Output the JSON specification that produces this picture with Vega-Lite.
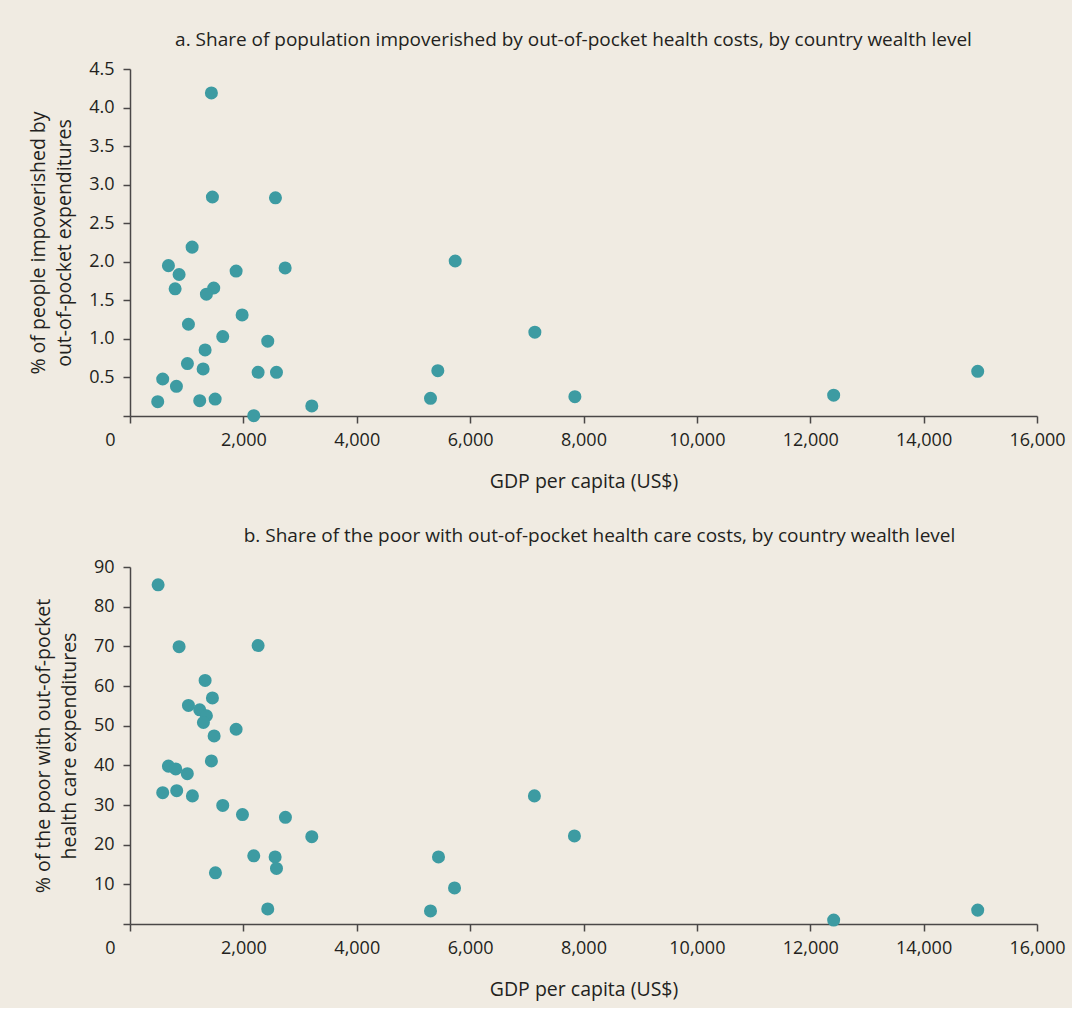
{
  "$schema": "https://vega.github.io/schema/vega-lite/v6.json",
  "background": "#f0ebe2",
  "padding": {"left": 28, "top": 31, "right": 6, "bottom": 9},
  "spacing": 36,
  "config": {
    "view": {"stroke": null},
    "font": "Open Sans",
    "axis": {
      "grid": false,
      "domainColor": "#4a4747",
      "tickColor": "#4a4747",
      "domainWidth": 1.5,
      "tickWidth": 1.5,
      "tickSize": 7,
      "labelColor": "#231f20",
      "titleColor": "#231f20",
      "labelFont": "Open Sans",
      "titleFont": "Open Sans",
      "labelFontSize": 18,
      "titleFontSize": 19.5,
      "titleFontWeight": "normal",
      "labelFlush": false
    },
    "title": {"font": "Open Sans", "fontSize": 19, "fontWeight": "normal", "color": "#231f20", "frame": "group", "anchor": "middle"}
  },
  "datasets": {
    "a": [
      {"gdp": 1436, "pct": 4.19},
      {"gdp": 1454, "pct": 2.84},
      {"gdp": 2566, "pct": 2.83},
      {"gdp": 1096, "pct": 2.19},
      {"gdp": 678, "pct": 1.95},
      {"gdp": 866, "pct": 1.835},
      {"gdp": 796, "pct": 1.65},
      {"gdp": 1477, "pct": 1.66},
      {"gdp": 1348, "pct": 1.58},
      {"gdp": 1872, "pct": 1.88},
      {"gdp": 2737, "pct": 1.92},
      {"gdp": 1978, "pct": 1.31},
      {"gdp": 1031, "pct": 1.19},
      {"gdp": 1636, "pct": 1.03},
      {"gdp": 2430, "pct": 0.97},
      {"gdp": 1325, "pct": 0.857},
      {"gdp": 1013, "pct": 0.68},
      {"gdp": 1290, "pct": 0.61},
      {"gdp": 2260, "pct": 0.567},
      {"gdp": 2584, "pct": 0.567},
      {"gdp": 577, "pct": 0.48},
      {"gdp": 819, "pct": 0.385},
      {"gdp": 489, "pct": 0.186},
      {"gdp": 1230, "pct": 0.199},
      {"gdp": 1502, "pct": 0.22},
      {"gdp": 2183, "pct": 0.004},
      {"gdp": 3207, "pct": 0.13},
      {"gdp": 5737, "pct": 2.01},
      {"gdp": 7142, "pct": 1.087},
      {"gdp": 5430, "pct": 0.588},
      {"gdp": 5301, "pct": 0.23},
      {"gdp": 7848, "pct": 0.25},
      {"gdp": 12413, "pct": 0.27},
      {"gdp": 14954, "pct": 0.58}
    ],
    "b": [
      {"gdp": 496, "pct": 85.5},
      {"gdp": 866, "pct": 69.9},
      {"gdp": 2260, "pct": 70.2},
      {"gdp": 1325, "pct": 61.4},
      {"gdp": 1454, "pct": 57.0},
      {"gdp": 1031, "pct": 55.1},
      {"gdp": 1230, "pct": 54.0},
      {"gdp": 1348, "pct": 52.5},
      {"gdp": 1295, "pct": 50.8},
      {"gdp": 1484, "pct": 47.4},
      {"gdp": 1872, "pct": 49.1},
      {"gdp": 1436, "pct": 41.1},
      {"gdp": 678, "pct": 39.8},
      {"gdp": 807, "pct": 39.1},
      {"gdp": 1011, "pct": 37.9},
      {"gdp": 577, "pct": 33.1},
      {"gdp": 824, "pct": 33.6},
      {"gdp": 1101, "pct": 32.3},
      {"gdp": 1636, "pct": 29.9},
      {"gdp": 1984, "pct": 27.6},
      {"gdp": 2742, "pct": 26.9},
      {"gdp": 3207, "pct": 22.0},
      {"gdp": 2183, "pct": 17.2},
      {"gdp": 2560, "pct": 16.9},
      {"gdp": 2584, "pct": 14.0},
      {"gdp": 1507, "pct": 12.9},
      {"gdp": 2430, "pct": 3.8},
      {"gdp": 5442, "pct": 16.9},
      {"gdp": 5725, "pct": 9.1},
      {"gdp": 5301, "pct": 3.3},
      {"gdp": 7134, "pct": 32.3},
      {"gdp": 7840, "pct": 22.2},
      {"gdp": 12413, "pct": 1.0},
      {"gdp": 14954, "pct": 3.5}
    ]
  },
  "vconcat": [
    {
      "width": 907,
      "height": 347,
      "title": {"text": "a. Share of population impoverished by out-of-pocket health costs, by country wealth level", "dx": -10, "offset": 10},
      "data": {"name": "a"},
      "mark": {"type": "circle", "size": 170, "opacity": 1, "color": "#3d9ba2"},
      "encoding": {
        "x": {
          "field": "gdp", "type": "quantitative",
          "scale": {"domain": [0, 16000], "nice": false, "zero": true},
          "axis": {
            "title": "GDP per capita (US$)",
            "values": [0, 2000, 4000, 6000, 8000, 10000, 12000, 14000, 16000],
            "format": ",d",
            "labelPadding": 8,
            "titlePadding": 23,
            "labelOffset": {"condition": {"test": "datum.value === 0", "value": -20}, "value": 0}
          }
        },
        "y": {
          "field": "pct", "type": "quantitative",
          "scale": {"domain": [0, 4.5], "nice": false},
          "axis": {
            "title": ["% of people impoverished by", "out-of-pocket expenditures"],
            "titleLineHeight": 26,
            "values": [0, 0.5, 1, 1.5, 2, 2.5, 3, 3.5, 4, 4.5],
            "labelExpr": "datum.value === 0 ? '' : format(datum.value, '.1f')",
            "labelPadding": 9,
            "titlePadding": 14
          }
        }
      }
    },
    {
      "width": 907,
      "height": 357,
      "title": {"text": "b. Share of the poor with out-of-pocket health care costs, by country wealth level", "dx": 16, "offset": 12},
      "data": {"name": "b"},
      "mark": {"type": "circle", "size": 170, "opacity": 1, "color": "#3d9ba2"},
      "encoding": {
        "x": {
          "field": "gdp", "type": "quantitative",
          "scale": {"domain": [0, 16000], "nice": false, "zero": true},
          "axis": {
            "title": "GDP per capita (US$)",
            "values": [0, 2000, 4000, 6000, 8000, 10000, 12000, 14000, 16000],
            "format": ",d",
            "labelPadding": 8,
            "titlePadding": 23,
            "labelOffset": {"condition": {"test": "datum.value === 0", "value": -20}, "value": 0}
          }
        },
        "y": {
          "field": "pct", "type": "quantitative",
          "scale": {"domain": [0, 90], "nice": false},
          "axis": {
            "title": ["% of the poor with out-of-pocket", "health care expenditures"],
            "titleLineHeight": 26,
            "values": [0, 10, 20, 30, 40, 50, 60, 70, 80, 90],
            "labelExpr": "datum.value === 0 ? '' : format(datum.value, 'd')",
            "labelPadding": 9,
            "titlePadding": 14
          }
        }
      }
    }
  ]
}
